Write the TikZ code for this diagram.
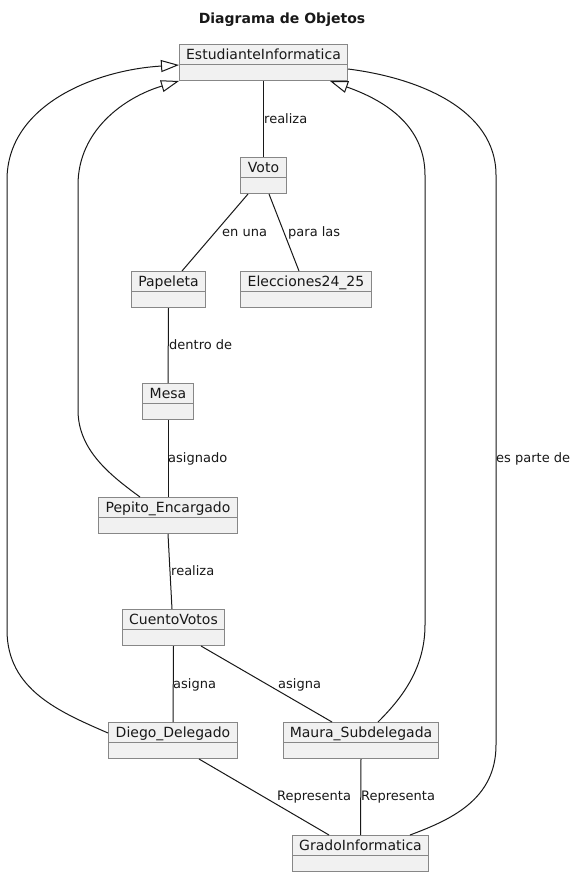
\documentclass[tikz,border=0pt]{standalone}
\usepackage{fontspec}
\setmainfont{DejaVu Sans}
\usetikzlibrary{arrows.meta}
\definecolor{boxfill}{HTML}{F1F1F1}
\definecolor{boxline}{HTML}{878787}
\definecolor{ink}{HTML}{181818}
\begin{document}
\begin{tikzpicture}[x=1pt,y=-1pt,
  obj/.style={draw=boxline, line width=1pt, fill=boxfill, anchor=north west,
    inner sep=0pt, minimum height=36pt, text height=15pt, text depth=21pt,
    font=\fontsize{14pt}{16pt}\selectfont, text=ink,
    path picture={\draw[boxline, line width=1pt]
      ([yshift=-20pt]path picture bounding box.north west) --
      ([yshift=-20pt]path picture bounding box.north east);}},
  lbl/.style={anchor=base west, inner sep=0pt, text=ink,
    font=\fontsize{13pt}{15pt}\selectfont},
  edge/.style={draw=ink, line width=1pt},
  inh/.style={-{Triangle[open, length=18pt, width=12pt]}},
  heading/.style={anchor=base, inner sep=0pt, text=ink,
    font=\fontsize{14pt}{16pt}\selectfont\bfseries}]
\useasboundingbox[fill=white] (0,0) rectangle (577,876);

% title
\node[heading] (title) at (282,23.5) {Diagrama de Objetos};

% objects
\node[obj, minimum width=168pt] (ei)     at (179,44)  {EstudianteInformatica};
\node[obj, minimum width=46pt]  (voto)   at (240,157) {Voto};
\node[obj, minimum width=74pt]  (pap)    at (131,271) {Papeleta};
\node[obj, minimum width=131pt] (elec)   at (240,271) {Elecciones24\_25};
\node[obj, minimum width=51pt]  (mesa)   at (142,383) {Mesa};
\node[obj, minimum width=139pt] (pepito) at (98,497)  {Pepito\_Encargado};
\node[obj, minimum width=102pt] (cuento) at (122,609) {CuentoVotos};
\node[obj, minimum width=129pt] (diego)  at (108,722) {Diego\_Delegado};
\node[obj, minimum width=155pt] (maura)  at (283,722) {Maura\_Subdelegada};
\node[obj, minimum width=136pt] (grado)  at (292,835) {GradoInformatica};

% plain links
\draw[edge] (ei.south) -- (voto.north);
\draw[edge] ([xshift=8pt]voto.south west) -- ([xshift=51pt]pap.north west);
\draw[edge] ([xshift=29pt]voto.south west) -- ([xshift=59pt]elec.north west);
\draw[edge] (pap.south) -- (mesa.north);
\draw[edge] (mesa.south) -- (pepito.north);
\draw[edge] (pepito.south) -- ([xshift=50pt]cuento.north west);
\draw[edge] (cuento.south) -- (diego.north);
\draw[edge] ([xshift=79pt]cuento.south west) -- ([xshift=49pt]maura.north west);
\draw[edge] ([xshift=91pt]diego.south west) -- ([xshift=37pt]grado.north west);
\draw[edge] (maura.south) -- (grado.north);

% inheritance links
\draw[edge, inh] ([yshift=-11pt]diego.north west)
  .. controls (60,712) and (7,690) .. (7,630) -- (7,180)
  .. controls (7,105) and (95,70) .. ([yshift=-21pt]ei.north west);
\draw[edge, inh] ([xshift=42pt]pepito.north west)
  .. controls (110,475) and (78,450) .. (78,410) -- (78,185)
  .. controls (78,130) and (125,97) .. (ei.south west);
\draw[edge, inh] ([xshift=95pt]maura.north west)
  .. controls (400,700) and (425,670) .. (425,625) -- (425,175)
  .. controls (425,120) and (375,97) .. ([xshift=-18pt]ei.south east);

% long link on the right
\draw[edge] ([yshift=-25pt]ei.north east)
  .. controls (420,78) and (496,110) .. (496,175) -- (496,745)
  .. controls (496,800) and (450,820) .. ([xshift=118pt]grado.north west);

% link labels
\node[lbl] (l1)  at (264,123)   {realiza};
\node[lbl] (l2)  at (222,236)   {en una};
\node[lbl] (l3)  at (288,236)   {para las};
\node[lbl] (l4)  at (169,349)   {dentro de};
\node[lbl] (l5)  at (168,462)   {asignado};
\node[lbl] (l6)  at (171,575)   {realiza};
\node[lbl] (l7)  at (173,688.5) {asigna};
\node[lbl] (l8)  at (278,688.5) {asigna};
\node[lbl] (l9)  at (277,800)   {Representa};
\node[lbl] (l10) at (361,800)   {Representa};
\node[lbl] (l11) at (496,462)   {es parte de};
\end{tikzpicture}
\end{document}
